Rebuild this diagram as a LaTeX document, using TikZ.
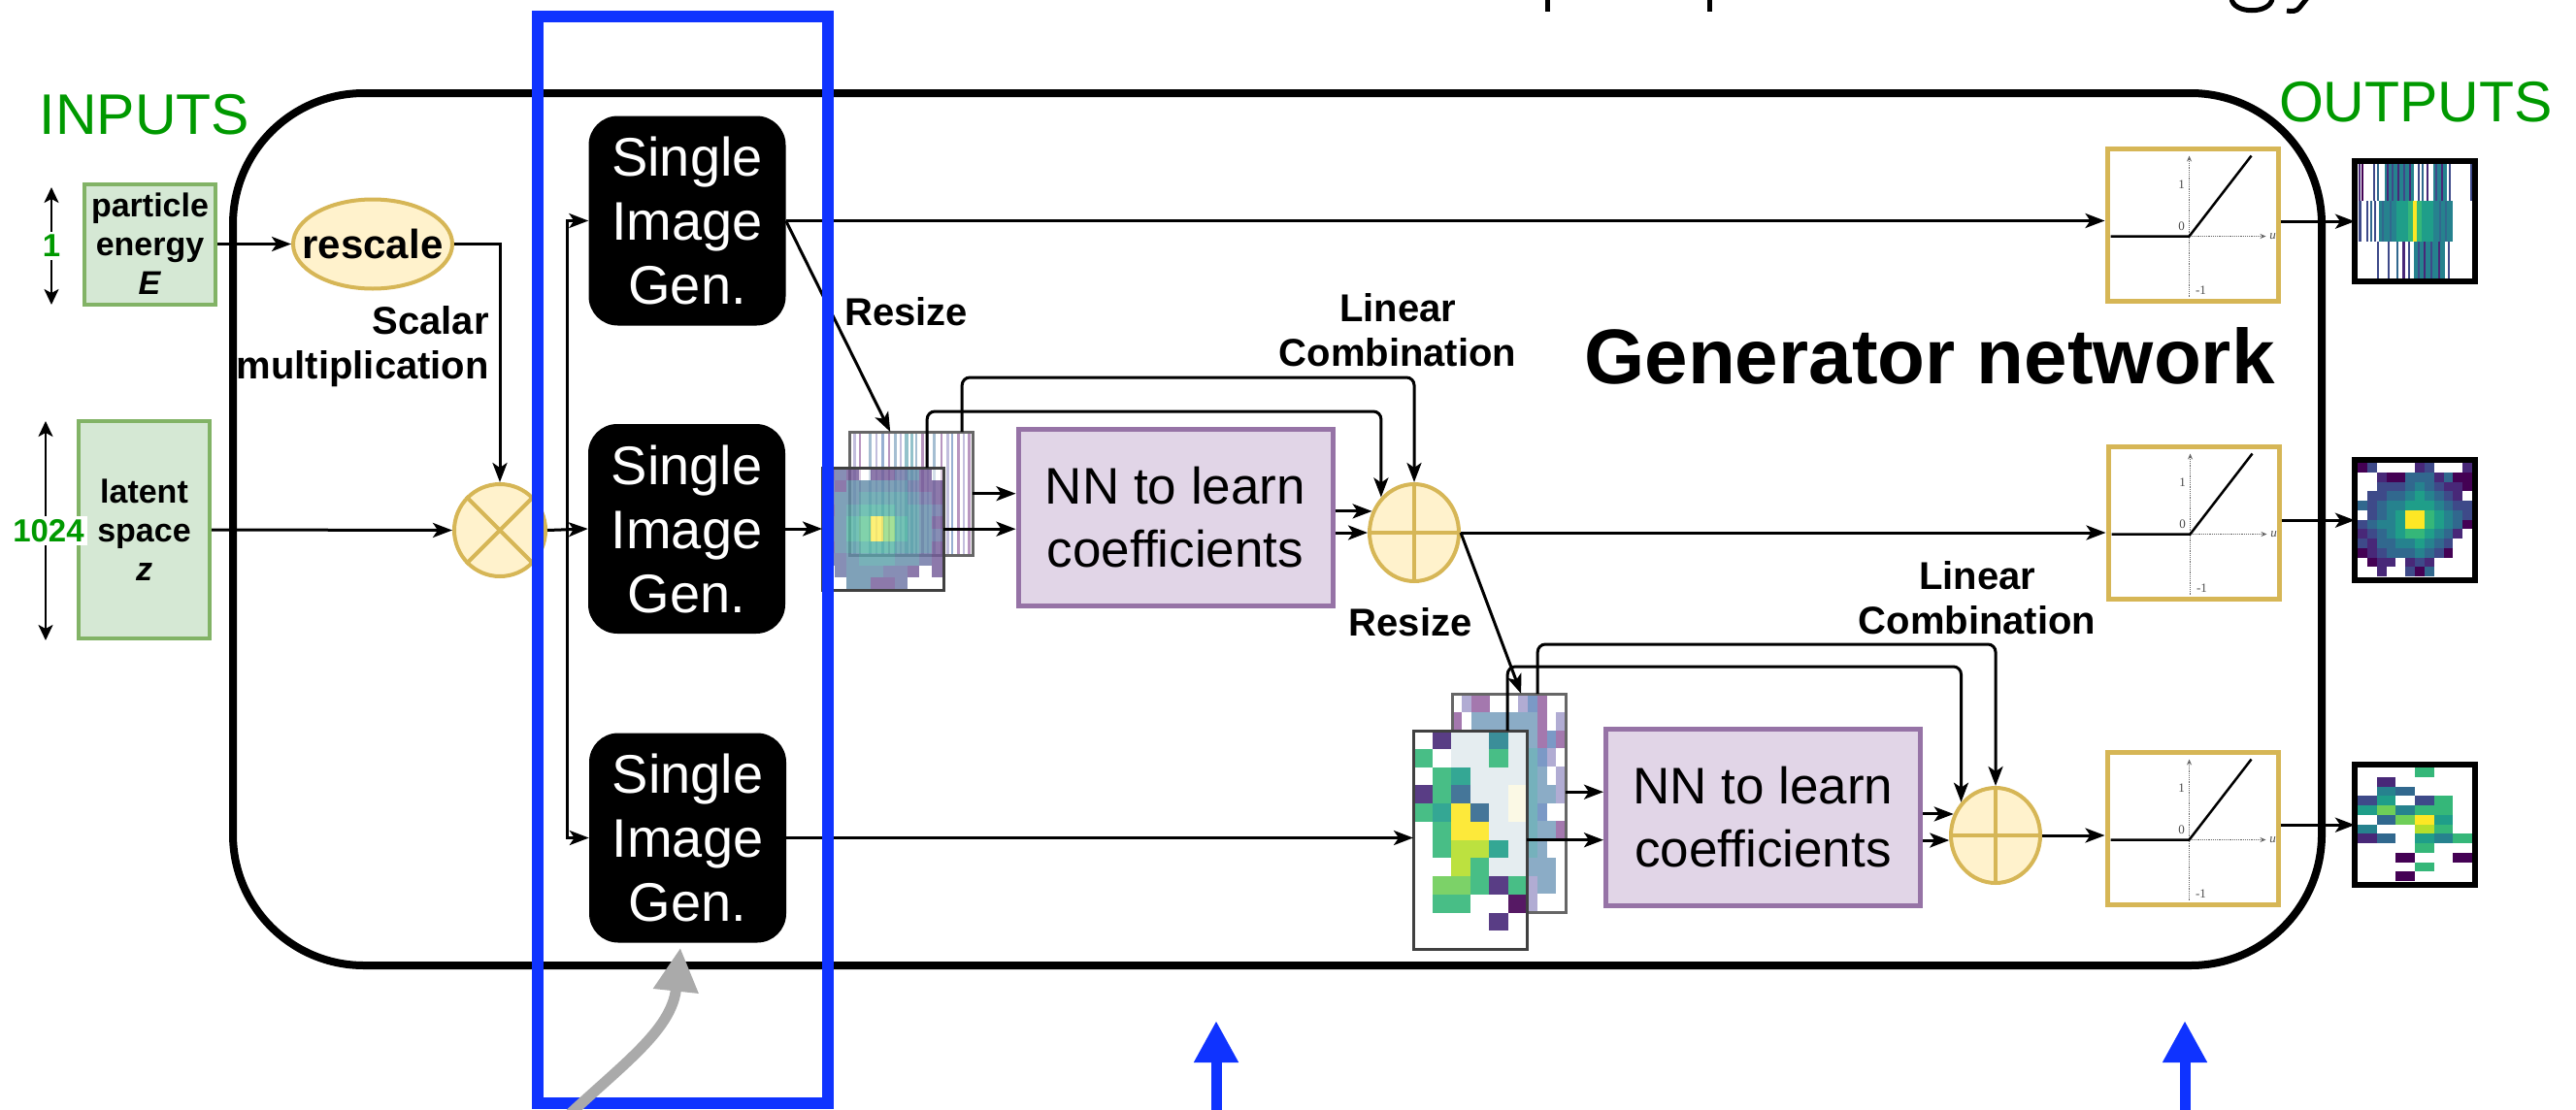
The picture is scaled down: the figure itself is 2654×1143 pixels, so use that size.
\documentclass[tikz,border=0pt]{standalone}
\usepackage{fontspec}
\setmainfont{Liberation Sans}
\newfontfamily\plotfont{Liberation Serif}
\usetikzlibrary{arrows.meta,shapes.geometric,calc}

\definecolor{ingreen}{HTML}{009900}
\definecolor{boxgreen}{HTML}{D5E8D4}
\definecolor{boxgreenline}{HTML}{82B366}
\definecolor{opfill}{HTML}{FFF2CC}
\definecolor{opline}{HTML}{D6B656}
\definecolor{nnfill}{HTML}{E1D5E7}
\definecolor{nnline}{HTML}{9673A6}
\definecolor{hlblue}{HTML}{0F33FF}
\definecolor{pointer}{HTML}{AAAAAA}
% viridis-like palette for the heat maps
\definecolor{vir1}{HTML}{440154}
\definecolor{vir2}{HTML}{482878}
\definecolor{vir3}{HTML}{3E4A89}
\definecolor{vir4}{HTML}{31688E}
\definecolor{vir5}{HTML}{26828E}
\definecolor{vir6}{HTML}{1F9E89}
\definecolor{vir7}{HTML}{35B779}
\definecolor{vir8}{HTML}{6ECE58}
\definecolor{vir9}{HTML}{FDE725}
\definecolor{vir10}{HTML}{B5DE2B}
\definecolor{vir11}{HTML}{E3ECEF}
\definecolor{vir12}{HTML}{FBF9E3}
% washed-out tones for the resized maps
\definecolor{fad1}{HTML}{7FA3C0}
\definecolor{fad2}{HTML}{9B6AA6}
\definecolor{fad3}{HTML}{A9A3CF}
\definecolor{fad4}{HTML}{66A9B5}
\definecolor{fad5}{HTML}{6D8FC0}

% pixel grid: colour prefix, x0, y0, cell width, cell height, rows
\newcommand\pixgrid[6]{%
  \foreach \prow [count=\rr from 0] in {#6} {%
    \foreach \pv [count=\cc from 0] in \prow {%
      \ifnum\pv>0 \fill[fill=#1\pv] ({#2+\cc*#4},{#3+\rr*#5}) rectangle ++(#4,#5);\fi
    }}}
% vertical stripes: x0, y0, height, list of offset/width/colour
\newcommand\stripes[4]{%
  \foreach \sx/\sw/\sc in {#4} {\fill[fill=\sc] ({#1+\sx},#2) rectangle ++(\sw,#3);}}
% activation panel: name, x, y of its top-left corner
\newcommand\relubox[3]{%
  \node[relu, anchor=north west] (#1) at (#2,#3) {};
  \begin{scope}[shift={(#2,#3)}]
    \draw[axisline] (87,155) -- (87,10);
    \draw[axisline] (87,93) -- (166,93);
    \draw[plotline] (6,93) -- (87,93) -- (151,10);
    \node[ticklbl] (#1-one) at (79,40) {1};
    \node[ticklbl] (#1-zero) at (79,83) {0};
    \node[ticklbl] (#1-minus) at (99,149) {-1};
    \node[ticklbl, font=\plotfont\itshape\fontsize{13}{13}\selectfont] (#1-u) at (173,93) {u};
  \end{scope}}

\begin{document}
\begin{tikzpicture}[x=1pt, y=-1pt,
  wire/.style={line width=3pt},
  arr/.style={line width=3pt, -{Stealth[length=20pt,width=15pt,inset=5pt]}},
  dimarr/.style={line width=2.5pt, {Stealth[length=16pt,width=15pt,inset=4pt]}-{Stealth[length=16pt,width=15pt,inset=4pt]}},
  sig/.style={rectangle, rounded corners=30pt, fill=black, text=white, minimum width=203pt, minimum height=216pt, align=center, inner sep=0pt, font=\fontsize{56}{66}\selectfont},
  nn/.style={rectangle, draw=nnline, fill=nnfill, line width=5pt, minimum width=324pt, minimum height=182pt, align=center, inner sep=0pt, font=\fontsize{53}{65}\selectfont},
  inbox/.style={rectangle, draw=boxgreenline, fill=boxgreen, line width=4pt, minimum width=135pt, align=center, inner sep=0pt, font=\fontsize{34}{40}\selectfont\bfseries},
  op/.style={ellipse, draw=opline, fill=opfill, line width=4pt, inner sep=0pt},
  opmark/.style={draw=opline, line width=4pt},
  lbl/.style={font=\fontsize{40}{46}\selectfont\bfseries, align=center, inner sep=0pt},
  headline/.style={font=\fontsize{59}{59}\selectfont, text=ingreen, inner sep=0pt},
  dimlbl/.style={font=\fontsize{33}{33}\selectfont\bfseries, text=ingreen, fill=white, inner sep=3pt},
  relu/.style={rectangle, draw=opline, fill=white, line width=5pt, minimum width=176pt, minimum height=157pt, inner sep=0pt},
  axisline/.style={densely dotted, line width=1.2pt, draw=black!60, -{Stealth[length=6pt,width=5pt]}},
  plotline/.style={line width=2.5pt},
  ticklbl/.style={font=\plotfont\fontsize{13}{13}\selectfont, text=black!70, inner sep=0pt},
  img/.style={rectangle, inner sep=0pt, anchor=north west},
  imgframe/.style={draw=black!75, line width=3pt},
  outframe/.style={draw=black, line width=6pt},
  hlarrow/.style={draw=hlblue, line width=11pt, -{Triangle[length=43pt,width=43pt]}},
  pointarrow/.style={draw=pointer, line width=11pt, -{Triangle[length=45pt,width=44pt]}},
]
\useasboundingbox (0,0) rectangle (2654,1143);

% descenders of the heading cut off at the top edge
\draw[line width=5pt] (1594,-4) -- (1594,12);
\draw[line width=5pt] (1761,-4) -- (1761,12);
\draw[line width=5pt] (2299,-2) .. controls (2300,15) and (2340,15) .. (2341,-2);
\draw[line width=5pt] (2377,-2) -- (2369,8) .. controls (2366,12) and (2361,12) .. (2356,11);

% generator frame
\node[draw, line width=8pt, rounded corners=135pt, minimum width=2152pt, minimum height=899pt, inner sep=0pt] (genframe) at (1316,545.5) {};

\node[headline] (inputs) at (149,118) {INPUTS};
\node[headline] (outputs) at (2489,105) {OUTPUTS};
\node[font=\fontsize{80}{80}\selectfont\bfseries, inner sep=0pt] (gentitle) at (1988,367) {Generator network};

% inputs
\node[inbox, minimum height=124pt] (pe) at (154.5,251.5) {particle\\energy\\\textit{E}};
\node[inbox, minimum height=224pt] (lat) at (148.5,546) {latent\\space\\\textit{z}};
\draw[dimarr] (53,314) -- node[dimlbl] (dimE) {1} (53,193);
\draw[dimarr] (47,660) -- node[dimlbl, xshift=3pt] (dimZ) {1024} (47,434);

% energy scaling
\node[op, minimum width=164pt, minimum height=92pt] (resc) at (384,251.5) {};
\node[lbl, font=\fontsize{42}{42}\selectfont\bfseries] (resctxt) at (resc.center) {rescale};
\node[op, minimum width=94pt, minimum height=95pt] (mul) at (515,546.5) {};
\draw[opmark] (mul.45) -- (mul.225);
\draw[opmark] (mul.135) -- (mul.315);
\node[lbl, align=right, anchor=east] (scal) at (504,357) {Scalar\\multiplication};

\draw[arr] (pe.east) -- (resc.west);
\draw[arr] (resc.east) -| (mul.north);
\draw[arr] (lat.east) -- (mul.west);

% single image generators
\node[sig] (sig1) at (708,227.5) {Single\\Image\\Gen.};
\node[sig] (sig2) at (707.5,545) {Single\\Image\\Gen.};
\node[sig] (sig3) at (708.5,863.5) {Single\\Image\\Gen.};
\coordinate (split) at (584,545);
\draw[arr] (mul.east) -- (sig2.west);
\draw[arr] (split) |- (sig1.west);
\draw[arr] (split) |- (sig3.west);

% activation panels
\relubox{relu1}{2168.5}{150.5}
\relubox{relu2}{2169.5}{457.5}
\relubox{relu3}{2168.5}{772.5}

% coefficient networks and sums
\node[nn] (nn1) at (1211,533) {NN to learn\\coefficients};
\node[nn] (nn2) at (1816.5,842) {NN to learn\\coefficients};
\node[op, minimum width=92pt, minimum height=100pt] (plus1) at (1457,549) {};
\draw[opmark] (plus1.north) -- (plus1.south);
\draw[opmark] (plus1.west) -- (plus1.east);
\node[op, minimum width=92pt, minimum height=98pt] (plus2) at (2056,861) {};
\draw[opmark] (plus2.north) -- (plus2.south);
\draw[opmark] (plus2.west) -- (plus2.east);

\node[lbl] (rsz1) at (933.5,321) {Resize};
\node[lbl] (rsz2) at (1453,641) {Resize};
\node[lbl] (lc1) at (1440,340) {Linear\\Combination};
\node[lbl] (lc2) at (2037,616) {Linear\\Combination};

% first resized pair of maps
\node[img, minimum width=127pt, minimum height=127pt] (img1b) at (875,445) {};
\fill[white] (img1b.north west) rectangle (img1b.south east);
\begin{scope}[opacity=0.7]
\stripes{875}{445}{127}{4/3/fad3, 10/2/fad2, 20/3/fad1, 27/2/fad3, 33/3/fad5, 40/2/fad2, 46/3/fad1, 52/2/fad3, 57/4/fad4, 63/3/fad4, 68/2/fad1, 74/3/fad2, 80/2/fad3, 86/3/fad1, 94/2/fad2, 100/3/fad3, 105/2/fad5, 111/3/fad2, 117/2/fad3, 122/3/fad2}
\end{scope}
\draw[imgframe, draw=black!60] (img1b.north west) rectangle (img1b.south east);
\node[img, minimum width=125pt, minimum height=126pt] (img1f) at (847,482) {};
\fill[white, opacity=0.5] (img1f.north west) rectangle (img1f.south east);
\begin{scope}[opacity=0.62]
\pixgrid{vir}{847}{482}{12.5}{12.6}{{2,3,2,0,2,2,3,4,2,0},{3,2,4,4,4,4,4,3,2,2},{3,4,4,5,5,5,5,4,3,2},{2,4,5,6,6,6,5,5,4,3},{3,4,6,7,9,8,6,5,4,2},{3,4,6,7,9,8,6,5,4,3},{2,4,5,6,6,6,5,5,4,2},{3,3,4,5,5,5,4,4,3,2},{0,3,4,4,4,3,3,2,0,2},{0,0,4,4,2,2,3,0,0,0}}
\end{scope}
\draw[imgframe] (img1f.north west) rectangle (img1f.south east);

% second resized pair of maps
\node[img, minimum width=117pt, minimum height=225pt] (img2b) at (1496,715) {};
\fill[white] (img2b.north west) rectangle (img2b.south east);
\begin{scope}[opacity=0.9]
\pixgrid{fad}{1496}{715}{9.75}{18.75}{{0,3,2,2,0,0,0,3,5,2,0,0},{2,0,1,1,1,1,1,1,1,2,0,3},{1,1,1,1,1,1,1,1,1,2,5,2},{1,1,1,1,1,1,1,1,4,5,3,0},{1,1,1,1,1,1,1,1,4,1,0,3},{1,1,1,1,1,1,1,1,4,1,1,3},{1,1,1,1,1,1,1,1,4,5,0,0},{1,1,1,1,1,1,1,1,4,1,1,2},{1,1,1,1,1,1,1,1,4,1,0,0},{1,1,1,1,1,1,1,1,1,1,1,0},{1,1,1,1,1,1,1,1,3,1,1,0},{1,1,1,1,1,1,1,1,3,0,0,0}}
\end{scope}
\draw[imgframe, draw=black!60] (img2b.north west) rectangle (img2b.south east);
\node[img, minimum width=117pt, minimum height=225pt] (img2f) at (1456,753) {};
\fill[white] (img2f.north west) rectangle (img2f.south east);
\begin{scope}[opacity=0.9]
\pixgrid{vir}{1456}{753}{19.5}{18.75}{{0,2,11,11,5,11},{7,0,11,11,7,11},{0,7,6,11,11,11},{2,7,4,11,11,12},{7,6,9,4,11,12},{0,7,9,9,11,11},{0,7,10,10,6,11},{0,0,10,7,11,11},{0,8,8,7,2,7},{0,7,7,0,0,1},{0,0,0,0,2,0},{0,0,0,0,0,0}}
\end{scope}
\draw[imgframe] (img2f.north west) rectangle (img2f.south east);

% output maps
\node[img, minimum width=124pt, minimum height=124pt] (out1) at (2426,166) {};
\fill[white] (out1.north west) rectangle (out1.south east);
\stripes{2429}{169}{38}{1/2/vir2, 4/1.5/vir1, 16/2/vir3, 20/1.5/vir4, 28/30/vir5, 30/2/vir2, 35/2/vir3, 41/2/vir2, 47/2/vir3, 53/2/vir2, 62/2/vir3, 66/2/vir4, 71/2/vir2, 78/14/vir5, 80/2/vir3, 86/2/vir2, 94/2/vir3, 116/2/vir3}
\stripes{2429}{207}{42}{1/3/vir3, 9/2/vir3, 13/2/vir4, 17/2/vir3, 22/18/vir5, 40/12/vir6, 52/5/vir7, 57/4/vir9, 61/5/vir7, 66/12/vir6, 78/20/vir5, 25/1.5/vir4, 33/1.5/vir4, 84/1.5/vir4, 90/1.5/vir4}
\stripes{2429}{249}{38}{20/2/vir3, 31/2/vir3, 40/2/vir4, 46/3/vir2, 52/2/vir3, 58/32/vir5, 62/2/vir3, 68/2/vir2, 75/2/vir3, 83/2/vir2, 93/2/vir3}
\draw[outframe] (out1.north west) rectangle (out1.south east);

\node[img, minimum width=124pt, minimum height=124pt] (out2) at (2426,474) {};
\fill[white] (out2.north west) rectangle (out2.south east);
\pixgrid{vir}{2429}{477}{9.83}{9.75}{{1,3,0,0,0,0,2,3,0,0,0,2},{0,0,2,1,1,4,4,4,2,4,1,1},{0,0,3,3,3,4,5,4,3,2,2,1},{0,3,3,4,4,5,6,5,4,3,2,0},{4,3,4,5,5,6,6,6,5,4,3,3},{0,3,4,5,6,9,9,7,6,5,4,3},{3,4,5,5,6,9,9,7,6,5,4,1},{2,3,4,5,6,7,7,6,5,4,2,0},{3,2,4,4,5,5,6,5,4,3,0,0},{1,2,3,4,4,4,5,4,3,1,0,0},{0,1,2,2,0,2,3,2,0,0,0,0},{0,0,2,0,0,3,1,4,0,0,0,0}}
\draw[outframe] (out2.north west) rectangle (out2.south east);

\node[img, minimum width=124pt, minimum height=124pt] (out3) at (2426,788) {};
\fill[white] (out3.north west) rectangle (out3.south east);
\pixgrid{vir}{2429}{791}{19.67}{9.75}{{0,0,0,7,0,0},{0,2,0,0,0,0},{0,5,4,0,0,0},{3,6,0,3,7,0},{6,8,5,7,7,0},{0,4,8,9,6,0},{5,0,0,10,7,0},{2,4,0,6,5,7},{0,0,0,7,0,0},{0,0,1,0,0,1},{0,0,0,7,0,0},{0,0,1,0,0,0}}
\draw[outframe] (out3.north west) rectangle (out3.south east);

% connectors
\coordinate (img2bout) at ([yshift=11.5pt]img2b.east);
\draw[arr] (sig1.east) -- (relu1.west |- sig1.east);
\draw[arr] (sig1.east) -- ([xshift=-21.5pt]img1b.north);
\draw[arr] (sig2.east) -- (img1f.west |- sig2.east);
\draw[arr] (sig3.east) -- (img2f.west |- sig3.east);
\draw[arr] (img1b.east) -- (nn1.west |- img1b.east);
\draw[arr] (img1f.east) -- (nn1.west |- img1f.east);
\draw[arr] (nn1.east |- plus1.153) -- (plus1.153);
\draw[arr] (nn1.east |- plus1.west) -- (plus1.west);
\draw[arr, rounded corners=8pt] ([xshift=52.5pt]img1b.north) -- ++(0,-56) -| (plus1.north);
\draw[arr, rounded corners=8pt] ([xshift=45.5pt]img1f.north) -- ++(0,-58) -| (plus1.133);
\draw[arr] (plus1.east) -- (relu2.west |- plus1.east);
\draw[arr] (plus1.east) -- ([xshift=12.5pt]img2b.north);
\draw[arr] (img2bout) -- (nn2.west |- img2bout);
\draw[arr] (img2f.east) -- (nn2.west |- img2f.east);
\draw[arr] (nn2.east |- plus2.153) -- (plus2.153);
\draw[arr] (nn2.east |- plus2.186) -- (plus2.186);
\draw[arr, rounded corners=8pt] ([xshift=29.5pt]img2b.north) -- ++(0,-51) -| (plus2.north);
\draw[arr, rounded corners=8pt] ([xshift=38.5pt]img2f.north) -- ++(0,-66) -| (plus2.136);
\draw[arr] (plus2.east) -- (relu3.west |- plus2.east);
\draw[arr] (relu1.east |- out1.west) -- (out1.west);
\draw[arr] (relu2.east |- out2.west) -- (out2.west);
\draw[arr] (relu3.east |- out3.west) -- (out3.west);

% highlight of the generator column and pointers
\node[draw=hlblue, line width=12pt, minimum width=299pt, minimum height=1120pt, inner sep=0pt] (focus) at (703.5,577) {};
\coordinate (ptrfoot) at (583,1152);
\draw[pointarrow] (ptrfoot) .. controls (640,1098) and (692,1062) .. ([xshift=-7.5pt,yshift=-5pt]sig3.south);
\coordinate (hlAfoot) at (1253,1150);
\coordinate (hlAtip) at (1253,1052);
\coordinate (hlBfoot) at (2251,1150);
\coordinate (hlBtip) at (2251,1052);
\draw[hlarrow] (hlAfoot) -- (hlAtip);
\draw[hlarrow] (hlBfoot) -- (hlBtip);
\end{tikzpicture}
\end{document}
